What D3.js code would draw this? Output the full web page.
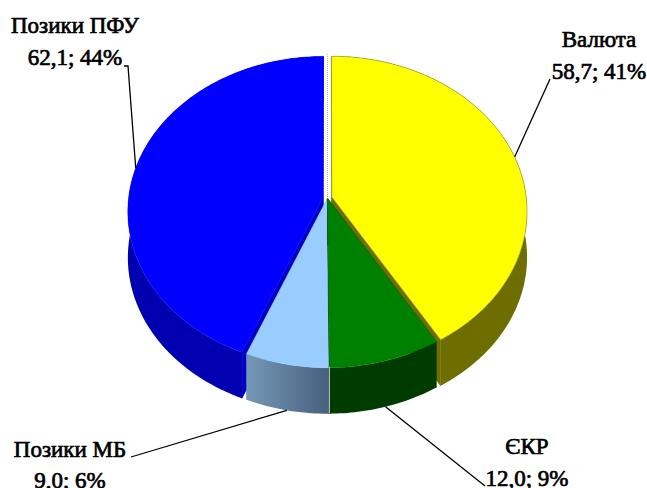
<!DOCTYPE html>
<html><head><meta charset="utf-8">
<script src="https://cdn.jsdelivr.net/npm/d3@7/dist/d3.min.js"></script>
<style>html,body{margin:0;padding:0;background:#fff}svg{display:block}text{font-family:"Liberation Serif",serif;font-size:23px;fill:#000;stroke:#000;stroke-width:0.7px}</style>
</head><body><svg id="c" width="647" height="488"></svg>
<script>
const categories = ["Валюта", "ЄКР", "Позики МБ", "Позики ПФУ"];
const values = [58.7, 12.0, 9.0, 62.1];
const percents = [41, 9, 6, 44];
const topColors = ["#ffff00", "#008000", "#99ccff", "#0000ff"];
const sideColors = ["#6e6e00", "#003c00", "url(#mb)", "#0000b0"];
const cutColors = ["#6e6e00", "#003c00", "#6a8cac", "#0000c8"];
const explode = [0.023, 0.004, 0.004, 0.023];
const labelBoxes = [[599, 47, 79, "middle"], [527, 454, 486, "middle"], [70, 457, 488, "middle"], [75, 33, 65, "middle"]];
const leaderElbows = [[550, 79], [485, 486], [131, 457], [124, 66, 128, 66]];

const svg = d3.select("#c");
const cx = 327.5, cy = 198, A = 153.7, B = 194.5, K = 0.0903, depth = 46;
const rot = 0;

const defs = svg.append("defs");
const g = defs.append("linearGradient").attr("id", "mb");
g.append("stop").attr("offset", "0").attr("stop-color", "#7698b8");
g.append("stop").attr("offset", "1").attr("stop-color", "#475f7c");

const arcs = d3.pie().sort(null).startAngle(rot).endAngle(2 * Math.PI + rot)(values);
function project(theta, r, e, mid, dy = 0) {
  const u = r * Math.sin(theta) + e * Math.sin(mid);
  const v = r * Math.cos(theta) + e * Math.cos(mid);
  const w = 1 + K * v;
  return [cx + B * u / w, cy - A * v / w + dy];
}
const line = d3.line();
function rim(a, dy) {
  const mid = (a.startAngle + a.endAngle) / 2;
  const e = explode[a.index];
  const n = Math.ceil((a.endAngle - a.startAngle) * 60);
  return d3.range(n + 1).map(i => project(a.startAngle + (a.endAngle - a.startAngle) * i / n, 1, e, mid, dy));
}
function apex(a, dy) {
  const mid = (a.startAngle + a.endAngle) / 2;
  return project(0, 0, explode[a.index], mid, dy);
}
function drawSlice(a) {
  const i = a.index, top = rim(a, 0), low = rim(a, depth);
  const p0 = apex(a, 0), p1 = apex(a, depth);
  const first = top[0], last = top[top.length - 1];
  [[first, low[0]], [last, low[low.length - 1]]].forEach(([t, b]) => {
    svg.append("path").attr("d", line([p0, t, b, p1]) + "Z").attr("fill", cutColors[i]).attr("stroke", cutColors[i]).attr("stroke-width", 0.5);
  });
  svg.append("path").attr("d", line(top.concat(low.slice().reverse())) + "Z").attr("fill", sideColors[i]).attr("stroke", "none");
  svg.append("path").attr("d", line([p0].concat(top)) + "Z").attr("fill", topColors[i])
    .attr("stroke", i === 0 ? "#8a8a30" : topColors[i]).attr("stroke-width", i === 0 ? 0.6 : 0.4);
}
[3, 0, 2, 1].forEach(i => drawSlice(arcs[i]));

const gapTop = project(0, 1, 0, 0);
svg.append("line").attr("x1", gapTop[0]).attr("x2", gapTop[0])
  .attr("y1", gapTop[1] - 3).attr("y2", cy)
  .attr("stroke", "#b8b8b8").attr("stroke-width", 1).attr("stroke-dasharray", "1 1");
const sep = project(arcs[1].endAngle, 1, 0, 0);
svg.append("line").attr("x1", sep[0]).attr("x2", sep[0]).attr("y1", sep[1]).attr("y2", sep[1] + depth)
  .attr("stroke", "#c8c8c8").attr("stroke-width", 1);

const fmt = v => d3.format(".1f")(v).replace(".", ",");
arcs.forEach(a => {
  const i = a.index, mid = (a.startAngle + a.endAngle) / 2;
  const front = Math.cos(mid) < -0.5;
  const anchor = project(mid, 1, explode[i], mid, front ? depth : 0);
  const pts = [];
  const el = leaderElbows[i];
  for (let k = 0; k < el.length; k += 2) pts.push([el[k], el[k + 1]]);
  pts.push(anchor);
  svg.append("path").attr("d", line(pts)).attr("fill", "none").attr("stroke", "#000").attr("stroke-width", 1.3);
  const b = labelBoxes[i];
  svg.append("text").attr("x", b[0]).attr("y", b[1]).attr("text-anchor", b[3]).text(categories[i]);
  svg.append("text").attr("x", b[0]).attr("y", b[2]).attr("text-anchor", b[3]).text(`${fmt(values[i])}; ${percents[i]}%`);
});
</script></body></html>
